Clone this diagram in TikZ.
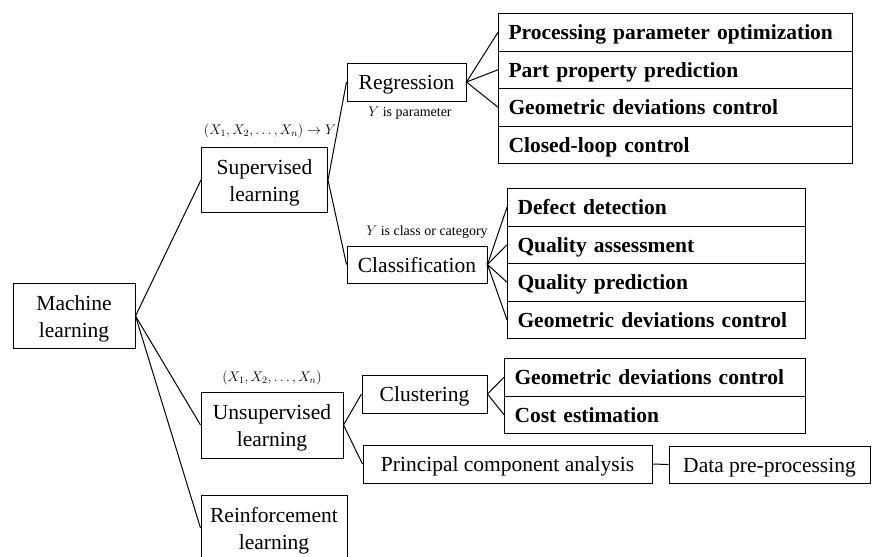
\RequirePackage{fix-cm}
\documentclass[tikz,border=0pt]{standalone}
\usepackage{fontspec}
\setmainfont{Liberation Serif}
\newcommand{\upstrut}{\rule{0pt}{21pt}}
\begin{document}
\begin{tikzpicture}[x=1pt,y=-1pt,
  box/.style={draw, line width=1pt, inner sep=0pt, align=center, font=\fontsize{21.5}{27}\selectfont},
  onebox/.style={box, text height=18.5pt, text depth=3.5pt},
  item/.style={draw, line width=1pt, inner sep=0pt, inner xsep=10pt, align=left, minimum height=37.5pt, text height=18.5pt, text depth=3.5pt, anchor=north west, font=\bfseries\fontsize{21.5}{26}\selectfont},
  lbl/.style={inner sep=0pt, font=\fontsize{14}{16}\selectfont},
  link/.style={line width=1pt}]
\useasboundingbox (0,0) rectangle (876,557);
\clip (0,0) rectangle (876,557);
% main boxes
\node[box, minimum width=122pt, minimum height=65pt] (ml) at (74,316) {\upstrut Machine\\learning};
\node[box, minimum width=126pt, minimum height=65pt] (sup) at (264.5,180) {\upstrut Supervised\\learning};
\node[box, minimum width=142pt, minimum height=66pt] (uns) at (272,425) {\upstrut Unsupervised\\learning};
\node[box, minimum width=146pt, minimum height=66pt] (rei) at (274,528) {\upstrut Reinforcement\\learning};
\node[onebox, minimum width=119pt, minimum height=38pt] (reg) at (406.5,82) {Regression};
\node[onebox, minimum width=140pt, minimum height=37pt] (cla) at (417,264.5) {Classification};
\node[onebox, minimum width=125pt, minimum height=38pt] (clu) at (424.5,394) {Clustering};
\node[onebox, minimum width=289pt, minimum height=38pt] (pca) at (507.5,464) {Principal component analysis};
\node[onebox, minimum width=201pt, minimum height=37pt] (dat) at (769.5,464.5) {Data pre-processing};
% regression items
\node[item, text width=334pt] (r1) at (498,13) {Processing parameter optimization};
\node[item, text width=334pt] (r2) at (498,50.5) {Part property prediction};
\node[item, text width=334pt] (r3) at (498,88) {Geometric deviations control};
\node[item, text width=334pt] (r4) at (498,125.5) {Closed-loop control};
% classification items
\node[item, text width=278pt] (c1) at (507,188) {Defect detection};
\node[item, text width=278pt] (c2) at (507,225.5) {Quality assessment};
\node[item, text width=278pt] (c3) at (507,263) {Quality prediction};
\node[item, text width=278pt] (c4) at (507,300.5) {Geometric deviations control};
% clustering items
\node[item, text width=281pt] (k1) at (504,358) {Geometric deviations control};
\node[item, text width=281pt] (k2) at (504,395.5) {Cost estimation};
% labels
\node[lbl] (l1) at (270,131) {$(X_1,X_2,\dots,X_n)\rightarrow Y$};
\node[lbl] (l2) at (410,113) {$Y$ is parameter};
\node[lbl] (l3) at (427,232) {$Y$ is class or category};
\node[lbl] (l4) at (272,378) {$(X_1,X_2,\dots,X_n)$};
% connectors
\draw[link] (sup.west) -- (ml.east) -- (uns.west);
\draw[link] (ml.east) -- (rei.west);
\draw[link] (reg.west) -- (sup.east) -- (cla.west);
\draw[link] (clu.west) -- (uns.east) -- (pca.west);
\draw[link] (r1.west) -- (reg.east) -- (r2.west);
\draw[link] (reg.east) -- (r3.west);
\draw[link] (c1.west) -- (cla.east) -- (c2.west);
\draw[link] (c3.west) -- (cla.east) -- (c4.west);
\draw[link] (k1.west) -- (clu.east) -- (k2.west);
\draw[link] (pca.east) -- (dat.west);
\end{tikzpicture}
\end{document}
